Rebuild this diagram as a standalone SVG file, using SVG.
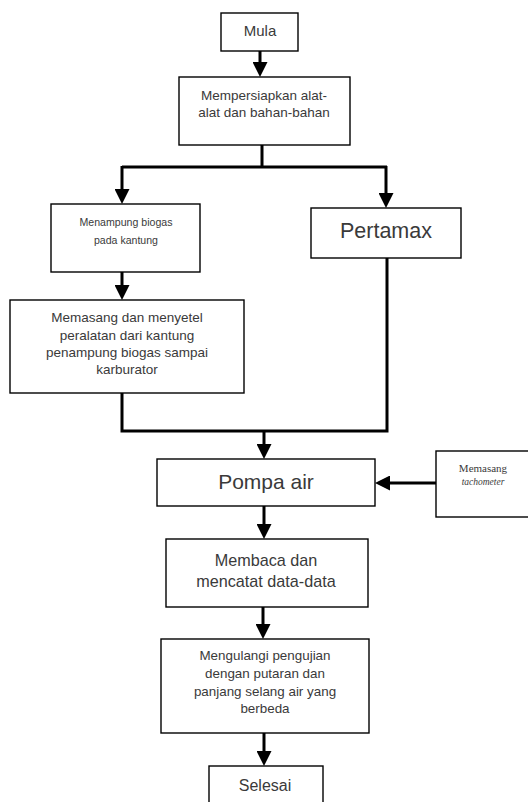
<svg xmlns="http://www.w3.org/2000/svg" width="528" height="802" viewBox="0 0 528 802">
<style>
.box{fill:#fff;stroke:#000;stroke-width:1.4}
.t{font-family:"Liberation Sans",Arial,sans-serif;fill:#3a3a3a;text-anchor:middle}
.s{font-family:"Liberation Serif","Times New Roman",serif;fill:#3a3a3a;text-anchor:middle}
.c{fill:none;stroke:#000;stroke-width:3}
</style>
<defs>
<marker id="ah" markerUnits="userSpaceOnUse" viewBox="0 0 15 15" markerWidth="15" markerHeight="15" refX="7" refY="7.5" orient="auto">
<path d="M0,0 L15,7.5 L0,15 Z" fill="#000"/>
</marker>
</defs>
<rect width="528" height="802" fill="#fff"/>
<g id="connectors">
<path class="c" d="M260,51 V69" marker-end="url(#ah)"/>
<path class="c" d="M262,145 V167 M122,167 H387"/>
<path class="c" d="M122,166 V196" marker-end="url(#ah)"/>
<path class="c" d="M386,166 V200" marker-end="url(#ah)"/>
<path class="c" d="M122,272 V292" marker-end="url(#ah)"/>
<path class="c" d="M122,393 V431 H387 V258"/>
<path class="c" d="M264,431 V451" marker-end="url(#ah)"/>
<path class="c" d="M436,483 H383" marker-end="url(#ah)"/>
<path class="c" d="M264,506 V531" marker-end="url(#ah)"/>
<path class="c" d="M263,604 V631" marker-end="url(#ah)"/>
<path class="c" d="M264,733 V758" marker-end="url(#ah)"/>
</g>
<g id="mula">
<rect class="box" x="221" y="13" width="77" height="38"/>
<text class="t" x="260" y="36" font-size="15">Mula</text>
</g>
<g id="persiapan">
<rect class="box" x="179" y="77" width="171" height="68"/>
<text class="t" x="264" y="100" font-size="13.5">Mempersiapkan alat-</text>
<text class="t" x="264" y="117" font-size="13.5">alat dan bahan-bahan</text>
</g>
<g id="menampung">
<rect class="box" x="51" y="204" width="149" height="68"/>
<text class="t" x="126" y="226" font-size="10.5" textLength="93" lengthAdjust="spacingAndGlyphs">Menampung biogas</text>
<text class="t" x="126" y="244" font-size="10.5" textLength="64" lengthAdjust="spacingAndGlyphs">pada kantung</text>
</g>
<g id="pertamax">
<rect class="box" x="311" y="208" width="150" height="50"/>
<text class="t" x="386" y="238" font-size="21.5">Pertamax</text>
</g>
<g id="memasang">
<rect class="box" x="10" y="300" width="234" height="93"/>
<text class="t" x="127" y="322" font-size="13.5">Memasang dan menyetel</text>
<text class="t" x="127" y="339.5" font-size="13.5">peralatan dari kantung</text>
<text class="t" x="127" y="357" font-size="13.5">penampung biogas sampai</text>
<text class="t" x="127" y="374" font-size="13.5">karburator</text>
</g>
<g id="pompa">
<rect class="box" x="157" y="459" width="218" height="47"/>
<text class="t" x="266" y="488.5" font-size="21">Pompa air</text>
</g>
<g id="tachometer">
<rect class="box" x="436" y="451" width="96" height="66"/>
<text class="s" x="483" y="472" font-size="11">Memasang</text>
<text class="s" x="483" y="485" font-size="9.5" font-style="italic">tachometer</text>
</g>
<g id="membaca">
<rect class="box" x="166" y="539" width="202" height="68"/>
<text class="t" x="266" y="566" font-size="16.2">Membaca dan</text>
<text class="t" x="266" y="587" font-size="16.2">mencatat data-data</text>
</g>
<g id="mengulangi">
<rect class="box" x="161" y="639" width="208" height="94"/>
<text class="t" x="265" y="660" font-size="13.4">Mengulangi pengujian</text>
<text class="t" x="265" y="678" font-size="13.4">dengan putaran dan</text>
<text class="t" x="265" y="696" font-size="13.4">panjang selang air yang</text>
<text class="t" x="265" y="713" font-size="13.4">berbeda</text>
</g>
<g id="selesai">
<rect class="box" x="209" y="766" width="114" height="45"/>
<text class="t" x="265" y="791" font-size="16">Selesai</text>
</g>
</svg>
